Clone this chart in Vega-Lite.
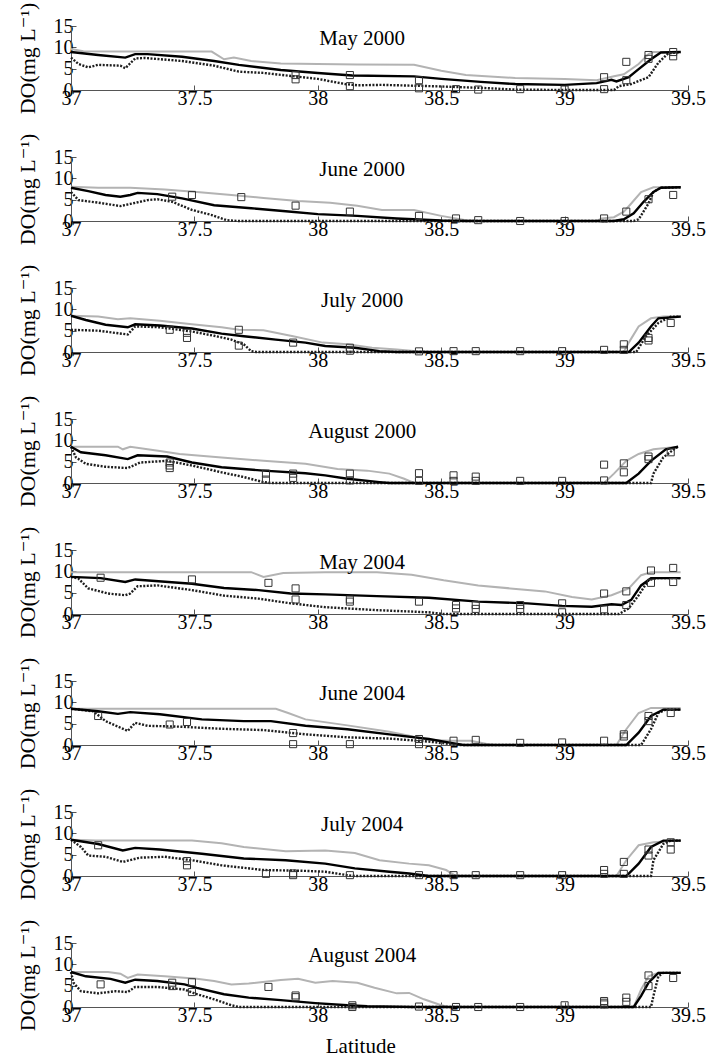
{
  "$schema": "https://vega.github.io/schema/vega-lite/v6.json",
  "background": "white",
  "padding": {"left": 16, "top": 2, "right": 2, "bottom": 0},
  "config": {
    "font": "Liberation Serif, Times New Roman, DejaVu Serif, serif",
    "view": {"stroke": null},
    "axis": {"labelFont": "Liberation Serif, Times New Roman, DejaVu Serif, serif", "labelFontSize": 20, "labelColor": "#000", "titleFont": "Liberation Serif, Times New Roman, DejaVu Serif, serif", "titleFontSize": 22, "titleFontWeight": "normal", "titleColor": "#000", "domainColor": "#555", "tickColor": "#555", "grid": false},
    "title": {"font": "Liberation Serif, Times New Roman, DejaVu Serif, serif"},
    "text": {"font": "Liberation Serif, Times New Roman, DejaVu Serif, serif"}
  },
  "datasets": {
    "d": [
      {"panel":"May 2000","series":"surface","lat":37,"do":9.6},{"panel":"May 2000","series":"surface","lat":37.05,"do":9.1},{"panel":"May 2000","series":"surface","lat":37.2,"do":9.0},{"panel":"May 2000","series":"surface","lat":37.4,"do":9.0},{"panel":"May 2000","series":"surface","lat":37.57,"do":9.0},{"panel":"May 2000","series":"surface","lat":37.62,"do":7.2},{"panel":"May 2000","series":"surface","lat":37.66,"do":7.6},{"panel":"May 2000","series":"surface","lat":37.73,"do":6.8},{"panel":"May 2000","series":"surface","lat":37.85,"do":6.2},{"panel":"May 2000","series":"surface","lat":38.0,"do":6.1},{"panel":"May 2000","series":"surface","lat":38.16,"do":6.0},{"panel":"May 2000","series":"surface","lat":38.39,"do":5.9},{"panel":"May 2000","series":"surface","lat":38.5,"do":4.5},{"panel":"May 2000","series":"surface","lat":38.6,"do":3.5},{"panel":"May 2000","series":"surface","lat":38.8,"do":2.8},{"panel":"May 2000","series":"surface","lat":39.0,"do":2.6},{"panel":"May 2000","series":"surface","lat":39.13,"do":2.3},{"panel":"May 2000","series":"surface","lat":39.2,"do":3.2},{"panel":"May 2000","series":"surface","lat":39.24,"do":3.7},{"panel":"May 2000","series":"surface","lat":39.3,"do":6.1},{"panel":"May 2000","series":"surface","lat":39.34,"do":8.4},{"panel":"May 2000","series":"surface","lat":39.36,"do":8.9},{"panel":"May 2000","series":"surface","lat":39.47,"do":8.9},
      {"panel":"May 2000","series":"mean","lat":37,"do":8.9},{"panel":"May 2000","series":"mean","lat":37.11,"do":8.2},{"panel":"May 2000","series":"mean","lat":37.22,"do":7.6},{"panel":"May 2000","series":"mean","lat":37.26,"do":8.4},{"panel":"May 2000","series":"mean","lat":37.31,"do":8.4},{"panel":"May 2000","series":"mean","lat":37.45,"do":7.8},{"panel":"May 2000","series":"mean","lat":37.58,"do":6.8},{"panel":"May 2000","series":"mean","lat":37.68,"do":5.9},{"panel":"May 2000","series":"mean","lat":37.85,"do":4.7},{"panel":"May 2000","series":"mean","lat":38.0,"do":4.0},{"panel":"May 2000","series":"mean","lat":38.14,"do":3.4},{"panel":"May 2000","series":"mean","lat":38.39,"do":3.2},{"panel":"May 2000","series":"mean","lat":38.5,"do":2.6},{"panel":"May 2000","series":"mean","lat":38.66,"do":1.9},{"panel":"May 2000","series":"mean","lat":38.8,"do":1.4},{"panel":"May 2000","series":"mean","lat":39.0,"do":1.2},{"panel":"May 2000","series":"mean","lat":39.13,"do":1.6},{"panel":"May 2000","series":"mean","lat":39.19,"do":2.4},{"panel":"May 2000","series":"mean","lat":39.21,"do":2.0},{"panel":"May 2000","series":"mean","lat":39.26,"do":3.0},{"panel":"May 2000","series":"mean","lat":39.3,"do":4.9},{"panel":"May 2000","series":"mean","lat":39.35,"do":7.2},{"panel":"May 2000","series":"mean","lat":39.39,"do":8.8},{"panel":"May 2000","series":"mean","lat":39.47,"do":8.9},
      {"panel":"May 2000","series":"bottom","lat":37,"do":7.6},{"panel":"May 2000","series":"bottom","lat":37.03,"do":6.1},{"panel":"May 2000","series":"bottom","lat":37.07,"do":5.3},{"panel":"May 2000","series":"bottom","lat":37.11,"do":5.9},{"panel":"May 2000","series":"bottom","lat":37.2,"do":5.7},{"panel":"May 2000","series":"bottom","lat":37.22,"do":5.1},{"panel":"May 2000","series":"bottom","lat":37.26,"do":7.4},{"panel":"May 2000","series":"bottom","lat":37.3,"do":7.5},{"panel":"May 2000","series":"bottom","lat":37.45,"do":6.8},{"panel":"May 2000","series":"bottom","lat":37.58,"do":5.7},{"panel":"May 2000","series":"bottom","lat":37.68,"do":4.3},{"panel":"May 2000","series":"bottom","lat":37.78,"do":4.0},{"panel":"May 2000","series":"bottom","lat":38.0,"do":2.6},{"panel":"May 2000","series":"bottom","lat":38.11,"do":1.4},{"panel":"May 2000","series":"bottom","lat":38.16,"do":1.1},{"panel":"May 2000","series":"bottom","lat":38.26,"do":1.2},{"panel":"May 2000","series":"bottom","lat":38.46,"do":0.9},{"panel":"May 2000","series":"bottom","lat":38.66,"do":0.5},{"panel":"May 2000","series":"bottom","lat":38.8,"do":0.1},{"panel":"May 2000","series":"bottom","lat":39.0,"do":0},{"panel":"May 2000","series":"bottom","lat":39.2,"do":0},{"panel":"May 2000","series":"bottom","lat":39.22,"do":0.9},{"panel":"May 2000","series":"bottom","lat":39.27,"do":1.4},{"panel":"May 2000","series":"bottom","lat":39.34,"do":3.0},{"panel":"May 2000","series":"bottom","lat":39.38,"do":6.4},{"panel":"May 2000","series":"bottom","lat":39.42,"do":8.6},{"panel":"May 2000","series":"bottom","lat":39.47,"do":8.9},
      {"panel":"May 2000","series":"obs","lat":37.91,"do":3.5},{"panel":"May 2000","series":"obs","lat":37.91,"do":2.5},{"panel":"May 2000","series":"obs","lat":38.13,"do":3.5},{"panel":"May 2000","series":"obs","lat":38.13,"do":0.9},{"panel":"May 2000","series":"obs","lat":38.41,"do":2.3},{"panel":"May 2000","series":"obs","lat":38.41,"do":0.4},{"panel":"May 2000","series":"obs","lat":38.56,"do":0.2},{"panel":"May 2000","series":"obs","lat":38.65,"do":0.1},{"panel":"May 2000","series":"obs","lat":38.82,"do":0.2},{"panel":"May 2000","series":"obs","lat":39.0,"do":0.1},{"panel":"May 2000","series":"obs","lat":39.16,"do":3.0},{"panel":"May 2000","series":"obs","lat":39.16,"do":0.2},{"panel":"May 2000","series":"obs","lat":39.25,"do":6.6},{"panel":"May 2000","series":"obs","lat":39.25,"do":2.3},{"panel":"May 2000","series":"obs","lat":39.34,"do":8.2},{"panel":"May 2000","series":"obs","lat":39.34,"do":7.3},{"panel":"May 2000","series":"obs","lat":39.44,"do":8.9},{"panel":"May 2000","series":"obs","lat":39.44,"do":7.9},

      {"panel":"June 2000","series":"surface","lat":37,"do":8.0},{"panel":"June 2000","series":"surface","lat":37.11,"do":7.8},{"panel":"June 2000","series":"surface","lat":37.24,"do":7.8},{"panel":"June 2000","series":"surface","lat":37.38,"do":7.4},{"panel":"June 2000","series":"surface","lat":37.51,"do":6.8},{"panel":"June 2000","series":"surface","lat":37.65,"do":6.1},{"panel":"June 2000","series":"surface","lat":37.78,"do":5.4},{"panel":"June 2000","series":"surface","lat":37.92,"do":4.7},{"panel":"June 2000","series":"surface","lat":38.05,"do":4.3},{"panel":"June 2000","series":"surface","lat":38.16,"do":3.6},{"panel":"June 2000","series":"surface","lat":38.26,"do":2.6},{"panel":"June 2000","series":"surface","lat":38.39,"do":2.6},{"panel":"June 2000","series":"surface","lat":38.5,"do":1.2},{"panel":"June 2000","series":"surface","lat":38.6,"do":0.2},{"panel":"June 2000","series":"surface","lat":38.66,"do":0},{"panel":"June 2000","series":"surface","lat":39.13,"do":0},{"panel":"June 2000","series":"surface","lat":39.15,"do":0.6},{"panel":"June 2000","series":"surface","lat":39.2,"do":0.9},{"panel":"June 2000","series":"surface","lat":39.24,"do":2.2},{"panel":"June 2000","series":"surface","lat":39.27,"do":4.1},{"panel":"June 2000","series":"surface","lat":39.31,"do":6.8},{"panel":"June 2000","series":"surface","lat":39.36,"do":7.9},{"panel":"June 2000","series":"surface","lat":39.47,"do":7.9},
      {"panel":"June 2000","series":"mean","lat":37,"do":7.8},{"panel":"June 2000","series":"mean","lat":37.07,"do":7.0},{"panel":"June 2000","series":"mean","lat":37.14,"do":6.1},{"panel":"June 2000","series":"mean","lat":37.2,"do":5.7},{"panel":"June 2000","series":"mean","lat":37.24,"do":6.1},{"panel":"June 2000","series":"mean","lat":37.27,"do":6.6},{"panel":"June 2000","series":"mean","lat":37.35,"do":6.3},{"panel":"June 2000","series":"mean","lat":37.45,"do":5.3},{"panel":"June 2000","series":"mean","lat":37.58,"do":3.7},{"panel":"June 2000","series":"mean","lat":37.73,"do":3.0},{"panel":"June 2000","series":"mean","lat":37.87,"do":2.3},{"panel":"June 2000","series":"mean","lat":38.0,"do":1.6},{"panel":"June 2000","series":"mean","lat":38.16,"do":1.2},{"panel":"June 2000","series":"mean","lat":38.32,"do":0.6},{"panel":"June 2000","series":"mean","lat":38.5,"do":0.1},{"panel":"June 2000","series":"mean","lat":38.6,"do":0},{"panel":"June 2000","series":"mean","lat":39.2,"do":0},{"panel":"June 2000","series":"mean","lat":39.24,"do":0.4},{"panel":"June 2000","series":"mean","lat":39.28,"do":1.8},{"panel":"June 2000","series":"mean","lat":39.32,"do":4.5},{"panel":"June 2000","series":"mean","lat":39.36,"do":6.8},{"panel":"June 2000","series":"mean","lat":39.39,"do":7.8},{"panel":"June 2000","series":"mean","lat":39.47,"do":7.9},
      {"panel":"June 2000","series":"bottom","lat":37,"do":6.8},{"panel":"June 2000","series":"bottom","lat":37.03,"do":4.9},{"panel":"June 2000","series":"bottom","lat":37.11,"do":4.3},{"panel":"June 2000","series":"bottom","lat":37.2,"do":3.5},{"panel":"June 2000","series":"bottom","lat":37.24,"do":4.0},{"panel":"June 2000","series":"bottom","lat":37.31,"do":4.9},{"panel":"June 2000","series":"bottom","lat":37.35,"do":5.1},{"panel":"June 2000","series":"bottom","lat":37.41,"do":4.5},{"panel":"June 2000","series":"bottom","lat":37.49,"do":2.6},{"panel":"June 2000","series":"bottom","lat":37.57,"do":1.4},{"panel":"June 2000","series":"bottom","lat":37.63,"do":0.2},{"panel":"June 2000","series":"bottom","lat":37.68,"do":0},{"panel":"June 2000","series":"bottom","lat":39.28,"do":0},{"panel":"June 2000","series":"bottom","lat":39.3,"do":0.4},{"panel":"June 2000","series":"bottom","lat":39.34,"do":4.1},{"panel":"June 2000","series":"bottom","lat":39.36,"do":6.8},{"panel":"June 2000","series":"bottom","lat":39.39,"do":7.8},{"panel":"June 2000","series":"bottom","lat":39.47,"do":7.9},
      {"panel":"June 2000","series":"obs","lat":37.41,"do":5.7},{"panel":"June 2000","series":"obs","lat":37.49,"do":6.1},{"panel":"June 2000","series":"obs","lat":37.69,"do":5.6},{"panel":"June 2000","series":"obs","lat":37.91,"do":3.6},{"panel":"June 2000","series":"obs","lat":38.13,"do":2.2},{"panel":"June 2000","series":"obs","lat":38.41,"do":1.2},{"panel":"June 2000","series":"obs","lat":38.56,"do":0.6},{"panel":"June 2000","series":"obs","lat":38.65,"do":0.2},{"panel":"June 2000","series":"obs","lat":38.82,"do":0},{"panel":"June 2000","series":"obs","lat":39.0,"do":0},{"panel":"June 2000","series":"obs","lat":39.16,"do":0.6},{"panel":"June 2000","series":"obs","lat":39.25,"do":2.2},{"panel":"June 2000","series":"obs","lat":39.34,"do":5.1},{"panel":"June 2000","series":"obs","lat":39.44,"do":6.1},

      {"panel":"July 2000","series":"surface","lat":37,"do":8.5},{"panel":"July 2000","series":"surface","lat":37.11,"do":8.3},{"panel":"July 2000","series":"surface","lat":37.19,"do":7.7},{"panel":"July 2000","series":"surface","lat":37.24,"do":7.9},{"panel":"July 2000","series":"surface","lat":37.36,"do":7.3},{"panel":"July 2000","series":"surface","lat":37.49,"do":6.5},{"panel":"July 2000","series":"surface","lat":37.61,"do":5.8},{"panel":"July 2000","series":"surface","lat":37.68,"do":5.2},{"panel":"July 2000","series":"surface","lat":37.78,"do":5.1},{"panel":"July 2000","series":"surface","lat":37.9,"do":3.7},{"panel":"July 2000","series":"surface","lat":38.02,"do":2.2},{"panel":"July 2000","series":"surface","lat":38.12,"do":1.8},{"panel":"July 2000","series":"surface","lat":38.22,"do":1.0},{"panel":"July 2000","series":"surface","lat":38.32,"do":0.6},{"panel":"July 2000","series":"surface","lat":38.4,"do":0.15},{"panel":"July 2000","series":"surface","lat":38.45,"do":0},{"panel":"July 2000","series":"surface","lat":39.24,"do":0},{"panel":"July 2000","series":"surface","lat":39.26,"do":2.2},{"panel":"July 2000","series":"surface","lat":39.3,"do":6.0},{"panel":"July 2000","series":"surface","lat":39.35,"do":7.9},{"panel":"July 2000","series":"surface","lat":39.4,"do":8.3},{"panel":"July 2000","series":"surface","lat":39.47,"do":8.3},
      {"panel":"July 2000","series":"mean","lat":37,"do":8.5},{"panel":"July 2000","series":"mean","lat":37.06,"do":7.5},{"panel":"July 2000","series":"mean","lat":37.14,"do":6.4},{"panel":"July 2000","series":"mean","lat":37.23,"do":5.8},{"panel":"July 2000","series":"mean","lat":37.26,"do":6.5},{"panel":"July 2000","series":"mean","lat":37.36,"do":6.2},{"panel":"July 2000","series":"mean","lat":37.49,"do":5.5},{"panel":"July 2000","series":"mean","lat":37.61,"do":4.3},{"panel":"July 2000","series":"mean","lat":37.7,"do":3.7},{"panel":"July 2000","series":"mean","lat":37.83,"do":2.9},{"panel":"July 2000","series":"mean","lat":37.95,"do":2.2},{"panel":"July 2000","series":"mean","lat":38.03,"do":1.4},{"panel":"July 2000","series":"mean","lat":38.15,"do":1.0},{"panel":"July 2000","series":"mean","lat":38.25,"do":0.2},{"panel":"July 2000","series":"mean","lat":38.32,"do":0},{"panel":"July 2000","series":"mean","lat":39.26,"do":0},{"panel":"July 2000","series":"mean","lat":39.3,"do":2.2},{"panel":"July 2000","series":"mean","lat":39.35,"do":6.0},{"panel":"July 2000","series":"mean","lat":39.38,"do":7.9},{"panel":"July 2000","series":"mean","lat":39.47,"do":8.3},
      {"panel":"July 2000","series":"bottom","lat":37,"do":5.2},{"panel":"July 2000","series":"bottom","lat":37.11,"do":5.0},{"panel":"July 2000","series":"bottom","lat":37.23,"do":4.1},{"panel":"July 2000","series":"bottom","lat":37.26,"do":6.0},{"panel":"July 2000","series":"bottom","lat":37.36,"do":5.8},{"panel":"July 2000","series":"bottom","lat":37.49,"do":4.8},{"panel":"July 2000","series":"bottom","lat":37.58,"do":3.8},{"panel":"July 2000","series":"bottom","lat":37.65,"do":2.9},{"panel":"July 2000","series":"bottom","lat":37.7,"do":1.8},{"panel":"July 2000","series":"bottom","lat":37.73,"do":0.2},{"panel":"July 2000","series":"bottom","lat":37.75,"do":0},{"panel":"July 2000","series":"bottom","lat":39.29,"do":0},{"panel":"July 2000","series":"bottom","lat":39.33,"do":3.7},{"panel":"July 2000","series":"bottom","lat":39.38,"do":6.8},{"panel":"July 2000","series":"bottom","lat":39.43,"do":8.3},{"panel":"July 2000","series":"bottom","lat":39.47,"do":8.3},
      {"panel":"July 2000","series":"obs","lat":37.4,"do":5.2},{"panel":"July 2000","series":"obs","lat":37.47,"do":4.5},{"panel":"July 2000","series":"obs","lat":37.47,"do":3.3},{"panel":"July 2000","series":"obs","lat":37.68,"do":5.2},{"panel":"July 2000","series":"obs","lat":37.68,"do":1.5},{"panel":"July 2000","series":"obs","lat":37.9,"do":2.2},{"panel":"July 2000","series":"obs","lat":38.13,"do":1.0},{"panel":"July 2000","series":"obs","lat":38.13,"do":0.3},{"panel":"July 2000","series":"obs","lat":38.41,"do":0.15},{"panel":"July 2000","series":"obs","lat":38.55,"do":0.2},{"panel":"July 2000","series":"obs","lat":38.64,"do":0.2},{"panel":"July 2000","series":"obs","lat":38.82,"do":0.2},{"panel":"July 2000","series":"obs","lat":38.99,"do":0.2},{"panel":"July 2000","series":"obs","lat":39.16,"do":0.5},{"panel":"July 2000","series":"obs","lat":39.24,"do":1.8},{"panel":"July 2000","series":"obs","lat":39.24,"do":0.5},{"panel":"July 2000","series":"obs","lat":39.34,"do":3.3},{"panel":"July 2000","series":"obs","lat":39.34,"do":2.7},{"panel":"July 2000","series":"obs","lat":39.43,"do":6.8},

      {"panel":"August 2000","series":"surface","lat":37,"do":8.5},{"panel":"August 2000","series":"surface","lat":37.19,"do":8.5},{"panel":"August 2000","series":"surface","lat":37.21,"do":7.9},{"panel":"August 2000","series":"surface","lat":37.24,"do":8.5},{"panel":"August 2000","series":"surface","lat":37.36,"do":7.5},{"panel":"August 2000","series":"surface","lat":37.44,"do":6.8},{"panel":"August 2000","series":"surface","lat":37.61,"do":6.0},{"panel":"August 2000","series":"surface","lat":37.78,"do":5.2},{"panel":"August 2000","series":"surface","lat":37.95,"do":4.5},{"panel":"August 2000","series":"surface","lat":38.08,"do":3.3},{"panel":"August 2000","series":"surface","lat":38.2,"do":2.9},{"panel":"August 2000","series":"surface","lat":38.29,"do":2.2},{"panel":"August 2000","series":"surface","lat":38.35,"do":1.0},{"panel":"August 2000","series":"surface","lat":38.39,"do":0},{"panel":"August 2000","series":"surface","lat":39.16,"do":0},{"panel":"August 2000","series":"surface","lat":39.2,"do":2.2},{"panel":"August 2000","series":"surface","lat":39.25,"do":5.2},{"panel":"August 2000","series":"surface","lat":39.3,"do":6.8},{"panel":"August 2000","series":"surface","lat":39.36,"do":7.9},{"panel":"August 2000","series":"surface","lat":39.46,"do":8.5},
      {"panel":"August 2000","series":"mean","lat":37,"do":8.5},{"panel":"August 2000","series":"mean","lat":37.04,"do":7.2},{"panel":"August 2000","series":"mean","lat":37.14,"do":6.5},{"panel":"August 2000","series":"mean","lat":37.23,"do":5.6},{"panel":"August 2000","series":"mean","lat":37.27,"do":6.5},{"panel":"August 2000","series":"mean","lat":37.39,"do":6.2},{"panel":"August 2000","series":"mean","lat":37.49,"do":4.8},{"panel":"August 2000","series":"mean","lat":37.61,"do":3.7},{"panel":"August 2000","series":"mean","lat":37.78,"do":2.9},{"panel":"August 2000","series":"mean","lat":37.95,"do":2.3},{"panel":"August 2000","series":"mean","lat":38.03,"do":1.8},{"panel":"August 2000","series":"mean","lat":38.12,"do":1.0},{"panel":"August 2000","series":"mean","lat":38.25,"do":0.2},{"panel":"August 2000","series":"mean","lat":38.29,"do":0},{"panel":"August 2000","series":"mean","lat":39.25,"do":0},{"panel":"August 2000","series":"mean","lat":39.3,"do":2.2},{"panel":"August 2000","series":"mean","lat":39.35,"do":5.2},{"panel":"August 2000","series":"mean","lat":39.41,"do":7.9},{"panel":"August 2000","series":"mean","lat":39.46,"do":8.5},
      {"panel":"August 2000","series":"bottom","lat":37,"do":8.5},{"panel":"August 2000","series":"bottom","lat":37.02,"do":6.0},{"panel":"August 2000","series":"bottom","lat":37.06,"do":4.5},{"panel":"August 2000","series":"bottom","lat":37.14,"do":3.8},{"panel":"August 2000","series":"bottom","lat":37.23,"do":3.5},{"panel":"August 2000","series":"bottom","lat":37.28,"do":4.8},{"panel":"August 2000","series":"bottom","lat":37.39,"do":5.2},{"panel":"August 2000","series":"bottom","lat":37.49,"do":4.1},{"panel":"August 2000","series":"bottom","lat":37.61,"do":2.5},{"panel":"August 2000","series":"bottom","lat":37.7,"do":1.4},{"panel":"August 2000","series":"bottom","lat":37.78,"do":0.2},{"panel":"August 2000","series":"bottom","lat":37.81,"do":0},{"panel":"August 2000","series":"bottom","lat":39.35,"do":0},{"panel":"August 2000","series":"bottom","lat":39.36,"do":2.2},{"panel":"August 2000","series":"bottom","lat":39.4,"do":6.0},{"panel":"August 2000","series":"bottom","lat":39.45,"do":8.2},{"panel":"August 2000","series":"bottom","lat":39.46,"do":8.5},
      {"panel":"August 2000","series":"obs","lat":37.4,"do":4.8},{"panel":"August 2000","series":"obs","lat":37.4,"do":4.1},{"panel":"August 2000","series":"obs","lat":37.4,"do":3.5},{"panel":"August 2000","series":"obs","lat":37.79,"do":2.2},{"panel":"August 2000","series":"obs","lat":37.79,"do":0.8},{"panel":"August 2000","series":"obs","lat":37.9,"do":2.2},{"panel":"August 2000","series":"obs","lat":37.9,"do":1.2},{"panel":"August 2000","series":"obs","lat":38.13,"do":2.2},{"panel":"August 2000","series":"obs","lat":38.13,"do":0.6},{"panel":"August 2000","series":"obs","lat":38.41,"do":2.3},{"panel":"August 2000","series":"obs","lat":38.41,"do":0.5},{"panel":"August 2000","series":"obs","lat":38.55,"do":1.8},{"panel":"August 2000","series":"obs","lat":38.55,"do":0.5},{"panel":"August 2000","series":"obs","lat":38.64,"do":1.5},{"panel":"August 2000","series":"obs","lat":38.64,"do":0.5},{"panel":"August 2000","series":"obs","lat":38.82,"do":0.5},{"panel":"August 2000","series":"obs","lat":38.99,"do":0.5},{"panel":"August 2000","series":"obs","lat":39.16,"do":4.3},{"panel":"August 2000","series":"obs","lat":39.16,"do":0.6},{"panel":"August 2000","series":"obs","lat":39.24,"do":4.6},{"panel":"August 2000","series":"obs","lat":39.24,"do":2.5},{"panel":"August 2000","series":"obs","lat":39.34,"do":6.2},{"panel":"August 2000","series":"obs","lat":39.34,"do":5.6},{"panel":"August 2000","series":"obs","lat":39.43,"do":7.2},

      {"panel":"May 2004","series":"surface","lat":37,"do":9.8},{"panel":"May 2004","series":"surface","lat":37.3,"do":9.8},{"panel":"May 2004","series":"surface","lat":37.5,"do":9.8},{"panel":"May 2004","series":"surface","lat":37.73,"do":9.8},{"panel":"May 2004","series":"surface","lat":37.78,"do":8.7},{"panel":"May 2004","series":"surface","lat":37.86,"do":9.6},{"panel":"May 2004","series":"surface","lat":38.03,"do":9.8},{"panel":"May 2004","series":"surface","lat":38.24,"do":9.8},{"panel":"May 2004","series":"surface","lat":38.38,"do":9.2},{"panel":"May 2004","series":"surface","lat":38.51,"do":7.9},{"panel":"May 2004","series":"surface","lat":38.65,"do":6.7},{"panel":"May 2004","series":"surface","lat":38.78,"do":6.0},{"panel":"May 2004","series":"surface","lat":38.92,"do":5.3},{"panel":"May 2004","series":"surface","lat":39.03,"do":4.0},{"panel":"May 2004","series":"surface","lat":39.11,"do":3.4},{"panel":"May 2004","series":"surface","lat":39.19,"do":4.4},{"panel":"May 2004","series":"surface","lat":39.26,"do":6.0},{"panel":"May 2004","series":"surface","lat":39.31,"do":9.1},{"panel":"May 2004","series":"surface","lat":39.35,"do":9.8},{"panel":"May 2004","series":"surface","lat":39.47,"do":9.8},
      {"panel":"May 2004","series":"mean","lat":37,"do":8.7},{"panel":"May 2004","series":"mean","lat":37.12,"do":8.4},{"panel":"May 2004","series":"mean","lat":37.22,"do":7.5},{"panel":"May 2004","series":"mean","lat":37.26,"do":8.1},{"panel":"May 2004","series":"mean","lat":37.49,"do":7.1},{"panel":"May 2004","series":"mean","lat":37.62,"do":6.1},{"panel":"May 2004","series":"mean","lat":37.76,"do":5.6},{"panel":"May 2004","series":"mean","lat":37.89,"do":4.8},{"panel":"May 2004","series":"mean","lat":38.03,"do":4.6},{"panel":"May 2004","series":"mean","lat":38.24,"do":4.2},{"panel":"May 2004","series":"mean","lat":38.45,"do":3.8},{"panel":"May 2004","series":"mean","lat":38.65,"do":2.9},{"panel":"May 2004","series":"mean","lat":38.85,"do":2.5},{"panel":"May 2004","series":"mean","lat":38.99,"do":1.9},{"panel":"May 2004","series":"mean","lat":39.11,"do":1.7},{"panel":"May 2004","series":"mean","lat":39.19,"do":2.3},{"panel":"May 2004","series":"mean","lat":39.23,"do":2.1},{"panel":"May 2004","series":"mean","lat":39.27,"do":3.3},{"panel":"May 2004","series":"mean","lat":39.31,"do":6.7},{"panel":"May 2004","series":"mean","lat":39.35,"do":8.4},{"panel":"May 2004","series":"mean","lat":39.47,"do":8.4},
      {"panel":"May 2004","series":"bottom","lat":37,"do":8.7},{"panel":"May 2004","series":"bottom","lat":37.03,"do":8.3},{"panel":"May 2004","series":"bottom","lat":37.07,"do":6.0},{"panel":"May 2004","series":"bottom","lat":37.15,"do":4.8},{"panel":"May 2004","series":"bottom","lat":37.22,"do":4.4},{"panel":"May 2004","series":"bottom","lat":37.24,"do":4.8},{"panel":"May 2004","series":"bottom","lat":37.27,"do":6.5},{"panel":"May 2004","series":"bottom","lat":37.35,"do":6.7},{"panel":"May 2004","series":"bottom","lat":37.49,"do":5.6},{"panel":"May 2004","series":"bottom","lat":37.62,"do":4.3},{"panel":"May 2004","series":"bottom","lat":37.76,"do":3.6},{"panel":"May 2004","series":"bottom","lat":37.89,"do":2.5},{"panel":"May 2004","series":"bottom","lat":38.03,"do":1.6},{"panel":"May 2004","series":"bottom","lat":38.24,"do":0.9},{"panel":"May 2004","series":"bottom","lat":38.45,"do":0.4},{"panel":"May 2004","series":"bottom","lat":38.51,"do":0},{"panel":"May 2004","series":"bottom","lat":39.22,"do":0},{"panel":"May 2004","series":"bottom","lat":39.26,"do":1.3},{"panel":"May 2004","series":"bottom","lat":39.3,"do":4.4},{"panel":"May 2004","series":"bottom","lat":39.34,"do":7.9},{"panel":"May 2004","series":"bottom","lat":39.37,"do":8.4},{"panel":"May 2004","series":"bottom","lat":39.47,"do":8.4},
      {"panel":"May 2004","series":"obs","lat":37.12,"do":8.5},{"panel":"May 2004","series":"obs","lat":37.49,"do":8.1},{"panel":"May 2004","series":"obs","lat":37.8,"do":7.3},{"panel":"May 2004","series":"obs","lat":37.91,"do":6.0},{"panel":"May 2004","series":"obs","lat":37.91,"do":3.4},{"panel":"May 2004","series":"obs","lat":38.13,"do":3.4},{"panel":"May 2004","series":"obs","lat":38.13,"do":2.9},{"panel":"May 2004","series":"obs","lat":38.41,"do":2.9},{"panel":"May 2004","series":"obs","lat":38.56,"do":2.1},{"panel":"May 2004","series":"obs","lat":38.56,"do":1.3},{"panel":"May 2004","series":"obs","lat":38.64,"do":2.1},{"panel":"May 2004","series":"obs","lat":38.64,"do":1.2},{"panel":"May 2004","series":"obs","lat":38.82,"do":2.1},{"panel":"May 2004","series":"obs","lat":38.82,"do":1.2},{"panel":"May 2004","series":"obs","lat":38.99,"do":2.5},{"panel":"May 2004","series":"obs","lat":38.99,"do":0.4},{"panel":"May 2004","series":"obs","lat":39.16,"do":4.8},{"panel":"May 2004","series":"obs","lat":39.16,"do":1.1},{"panel":"May 2004","series":"obs","lat":39.25,"do":5.3},{"panel":"May 2004","series":"obs","lat":39.25,"do":2.1},{"panel":"May 2004","series":"obs","lat":39.35,"do":10.2},{"panel":"May 2004","series":"obs","lat":39.35,"do":7.3},{"panel":"May 2004","series":"obs","lat":39.44,"do":10.8},{"panel":"May 2004","series":"obs","lat":39.44,"do":7.5},

      {"panel":"June 2004","series":"surface","lat":37,"do":8.5},{"panel":"June 2004","series":"surface","lat":37.5,"do":8.5},{"panel":"June 2004","series":"surface","lat":37.83,"do":8.5},{"panel":"June 2004","series":"surface","lat":37.88,"do":7.5},{"panel":"June 2004","series":"surface","lat":37.95,"do":6.0},{"panel":"June 2004","series":"surface","lat":38.12,"do":4.6},{"panel":"June 2004","series":"surface","lat":38.29,"do":3.1},{"panel":"June 2004","series":"surface","lat":38.37,"do":2.2},{"panel":"June 2004","series":"surface","lat":38.45,"do":1.2},{"panel":"June 2004","series":"surface","lat":38.54,"do":1.0},{"panel":"June 2004","series":"surface","lat":38.62,"do":1.0},{"panel":"June 2004","series":"surface","lat":38.69,"do":0.2},{"panel":"June 2004","series":"surface","lat":38.72,"do":0},{"panel":"June 2004","series":"surface","lat":39.21,"do":0},{"panel":"June 2004","series":"surface","lat":39.25,"do":3.7},{"panel":"June 2004","series":"surface","lat":39.3,"do":7.5},{"panel":"June 2004","series":"surface","lat":39.35,"do":8.7},{"panel":"June 2004","series":"surface","lat":39.47,"do":8.7},
      {"panel":"June 2004","series":"mean","lat":37,"do":8.5},{"panel":"June 2004","series":"mean","lat":37.11,"do":7.9},{"panel":"June 2004","series":"mean","lat":37.19,"do":7.3},{"panel":"June 2004","series":"mean","lat":37.24,"do":7.7},{"panel":"June 2004","series":"mean","lat":37.36,"do":7.2},{"panel":"June 2004","series":"mean","lat":37.53,"do":6.0},{"panel":"June 2004","series":"mean","lat":37.7,"do":5.6},{"panel":"June 2004","series":"mean","lat":37.81,"do":5.6},{"panel":"June 2004","series":"mean","lat":37.95,"do":4.5},{"panel":"June 2004","series":"mean","lat":38.12,"do":3.7},{"panel":"June 2004","series":"mean","lat":38.29,"do":2.5},{"panel":"June 2004","series":"mean","lat":38.45,"do":1.4},{"panel":"June 2004","series":"mean","lat":38.54,"do":0.5},{"panel":"June 2004","series":"mean","lat":38.59,"do":0},{"panel":"June 2004","series":"mean","lat":39.25,"do":0},{"panel":"June 2004","series":"mean","lat":39.3,"do":2.9},{"panel":"June 2004","series":"mean","lat":39.35,"do":6.8},{"panel":"June 2004","series":"mean","lat":39.4,"do":8.3},{"panel":"June 2004","series":"mean","lat":39.47,"do":8.3},
      {"panel":"June 2004","series":"bottom","lat":37,"do":8.5},{"panel":"June 2004","series":"bottom","lat":37.09,"do":7.9},{"panel":"June 2004","series":"bottom","lat":37.14,"do":5.6},{"panel":"June 2004","series":"bottom","lat":37.23,"do":3.3},{"panel":"June 2004","series":"bottom","lat":37.26,"do":5.2},{"panel":"June 2004","series":"bottom","lat":37.31,"do":4.5},{"panel":"June 2004","series":"bottom","lat":37.44,"do":4.3},{"panel":"June 2004","series":"bottom","lat":37.61,"do":3.8},{"panel":"June 2004","series":"bottom","lat":37.78,"do":3.5},{"panel":"June 2004","series":"bottom","lat":37.95,"do":2.5},{"panel":"June 2004","series":"bottom","lat":38.12,"do":1.8},{"panel":"June 2004","series":"bottom","lat":38.29,"do":1.5},{"panel":"June 2004","series":"bottom","lat":38.45,"do":0.8},{"panel":"June 2004","series":"bottom","lat":38.54,"do":0.2},{"panel":"June 2004","series":"bottom","lat":38.57,"do":0},{"panel":"June 2004","series":"bottom","lat":39.31,"do":0},{"panel":"June 2004","series":"bottom","lat":39.35,"do":3.7},{"panel":"June 2004","series":"bottom","lat":39.38,"do":7.5},{"panel":"June 2004","series":"bottom","lat":39.41,"do":8.3},{"panel":"June 2004","series":"bottom","lat":39.47,"do":8.3},
      {"panel":"June 2004","series":"obs","lat":37.11,"do":6.8},{"panel":"June 2004","series":"obs","lat":37.4,"do":4.8},{"panel":"June 2004","series":"obs","lat":37.47,"do":5.4},{"panel":"June 2004","series":"obs","lat":37.9,"do":2.8},{"panel":"June 2004","series":"obs","lat":37.9,"do":0.2},{"panel":"June 2004","series":"obs","lat":38.13,"do":0.2},{"panel":"June 2004","series":"obs","lat":38.41,"do":1.4},{"panel":"June 2004","series":"obs","lat":38.41,"do":0.2},{"panel":"June 2004","series":"obs","lat":38.55,"do":1.0},{"panel":"June 2004","series":"obs","lat":38.64,"do":1.2},{"panel":"June 2004","series":"obs","lat":38.82,"do":0.5},{"panel":"June 2004","series":"obs","lat":38.99,"do":0.6},{"panel":"June 2004","series":"obs","lat":39.16,"do":1.0},{"panel":"June 2004","series":"obs","lat":39.24,"do":2.5},{"panel":"June 2004","series":"obs","lat":39.24,"do":2.0},{"panel":"June 2004","series":"obs","lat":39.34,"do":6.8},{"panel":"June 2004","series":"obs","lat":39.34,"do":5.6},{"panel":"June 2004","series":"obs","lat":39.43,"do":7.5},

      {"panel":"July 2004","series":"surface","lat":37,"do":8.5},{"panel":"July 2004","series":"surface","lat":37.1,"do":8.3},{"panel":"July 2004","series":"surface","lat":37.49,"do":8.3},{"panel":"July 2004","series":"surface","lat":37.61,"do":7.7},{"panel":"July 2004","series":"surface","lat":37.7,"do":6.8},{"panel":"July 2004","series":"surface","lat":37.87,"do":5.8},{"panel":"July 2004","series":"surface","lat":38.03,"do":6.0},{"panel":"July 2004","series":"surface","lat":38.15,"do":5.4},{"panel":"July 2004","series":"surface","lat":38.25,"do":3.7},{"panel":"July 2004","series":"surface","lat":38.37,"do":2.9},{"panel":"July 2004","series":"surface","lat":38.45,"do":2.5},{"panel":"July 2004","series":"surface","lat":38.52,"do":1.4},{"panel":"July 2004","series":"surface","lat":38.56,"do":0},{"panel":"July 2004","series":"surface","lat":39.21,"do":0},{"panel":"July 2004","series":"surface","lat":39.25,"do":3.7},{"panel":"July 2004","series":"surface","lat":39.3,"do":7.2},{"panel":"July 2004","series":"surface","lat":39.36,"do":7.9},{"panel":"July 2004","series":"surface","lat":39.47,"do":8.3},
      {"panel":"July 2004","series":"mean","lat":37,"do":8.5},{"panel":"July 2004","series":"mean","lat":37.11,"do":7.5},{"panel":"July 2004","series":"mean","lat":37.21,"do":6.0},{"panel":"July 2004","series":"mean","lat":37.26,"do":6.6},{"panel":"July 2004","series":"mean","lat":37.36,"do":6.2},{"panel":"July 2004","series":"mean","lat":37.53,"do":5.2},{"panel":"July 2004","series":"mean","lat":37.7,"do":4.1},{"panel":"July 2004","series":"mean","lat":37.87,"do":3.7},{"panel":"July 2004","series":"mean","lat":38.03,"do":2.9},{"panel":"July 2004","series":"mean","lat":38.15,"do":1.8},{"panel":"July 2004","series":"mean","lat":38.29,"do":1.0},{"panel":"July 2004","series":"mean","lat":38.37,"do":0.6},{"panel":"July 2004","series":"mean","lat":38.45,"do":0},{"panel":"July 2004","series":"mean","lat":39.25,"do":0},{"panel":"July 2004","series":"mean","lat":39.3,"do":2.9},{"panel":"July 2004","series":"mean","lat":39.35,"do":6.8},{"panel":"July 2004","series":"mean","lat":39.4,"do":8.3},{"panel":"July 2004","series":"mean","lat":39.47,"do":8.3},
      {"panel":"July 2004","series":"bottom","lat":37,"do":8.5},{"panel":"July 2004","series":"bottom","lat":37.04,"do":6.8},{"panel":"July 2004","series":"bottom","lat":37.07,"do":4.8},{"panel":"July 2004","series":"bottom","lat":37.14,"do":4.5},{"panel":"July 2004","series":"bottom","lat":37.21,"do":3.3},{"panel":"July 2004","series":"bottom","lat":37.28,"do":4.3},{"panel":"July 2004","series":"bottom","lat":37.38,"do":4.5},{"panel":"July 2004","series":"bottom","lat":37.49,"do":3.7},{"panel":"July 2004","series":"bottom","lat":37.61,"do":2.5},{"panel":"July 2004","series":"bottom","lat":37.78,"do":1.4},{"panel":"July 2004","series":"bottom","lat":37.95,"do":1.2},{"panel":"July 2004","series":"bottom","lat":38.03,"do":1.0},{"panel":"July 2004","series":"bottom","lat":38.12,"do":0.2},{"panel":"July 2004","series":"bottom","lat":38.15,"do":0},{"panel":"July 2004","series":"bottom","lat":39.35,"do":0},{"panel":"July 2004","series":"bottom","lat":39.36,"do":3.7},{"panel":"July 2004","series":"bottom","lat":39.4,"do":7.5},{"panel":"July 2004","series":"bottom","lat":39.43,"do":8.3},{"panel":"July 2004","series":"bottom","lat":39.47,"do":8.3},
      {"panel":"July 2004","series":"obs","lat":37.11,"do":7.2},{"panel":"July 2004","series":"obs","lat":37.47,"do":3.5},{"panel":"July 2004","series":"obs","lat":37.47,"do":2.5},{"panel":"July 2004","series":"obs","lat":37.79,"do":0.5},{"panel":"July 2004","series":"obs","lat":37.9,"do":0.6},{"panel":"July 2004","series":"obs","lat":37.9,"do":0.2},{"panel":"July 2004","series":"obs","lat":38.13,"do":0.2},{"panel":"July 2004","series":"obs","lat":38.41,"do":0.2},{"panel":"July 2004","series":"obs","lat":38.55,"do":0.2},{"panel":"July 2004","series":"obs","lat":38.64,"do":0.2},{"panel":"July 2004","series":"obs","lat":38.82,"do":0.2},{"panel":"July 2004","series":"obs","lat":38.99,"do":0.2},{"panel":"July 2004","series":"obs","lat":39.16,"do":1.4},{"panel":"July 2004","series":"obs","lat":39.16,"do":0.5},{"panel":"July 2004","series":"obs","lat":39.24,"do":3.3},{"panel":"July 2004","series":"obs","lat":39.24,"do":0.5},{"panel":"July 2004","series":"obs","lat":39.34,"do":6.2},{"panel":"July 2004","series":"obs","lat":39.34,"do":4.8},{"panel":"July 2004","series":"obs","lat":39.43,"do":7.9},{"panel":"July 2004","series":"obs","lat":39.43,"do":6.2},

      {"panel":"August 2004","series":"surface","lat":37,"do":8.2},{"panel":"August 2004","series":"surface","lat":37.15,"do":8.2},{"panel":"August 2004","series":"surface","lat":37.2,"do":7.8},{"panel":"August 2004","series":"surface","lat":37.23,"do":6.8},{"panel":"August 2004","series":"surface","lat":37.27,"do":7.6},{"panel":"August 2004","series":"surface","lat":37.38,"do":7.2},{"panel":"August 2004","series":"surface","lat":37.51,"do":6.6},{"panel":"August 2004","series":"surface","lat":37.58,"do":6.1},{"panel":"August 2004","series":"surface","lat":37.65,"do":5.3},{"panel":"August 2004","series":"surface","lat":37.72,"do":5.5},{"panel":"August 2004","series":"surface","lat":37.85,"do":6.3},{"panel":"August 2004","series":"surface","lat":37.92,"do":6.6},{"panel":"August 2004","series":"surface","lat":37.99,"do":5.7},{"panel":"August 2004","series":"surface","lat":38.06,"do":6.1},{"panel":"August 2004","series":"surface","lat":38.16,"do":5.7},{"panel":"August 2004","series":"surface","lat":38.23,"do":4.5},{"panel":"August 2004","series":"surface","lat":38.32,"do":3.2},{"panel":"August 2004","series":"surface","lat":38.37,"do":3.3},{"panel":"August 2004","series":"surface","lat":38.43,"do":1.8},{"panel":"August 2004","series":"surface","lat":38.5,"do":0.4},{"panel":"August 2004","series":"surface","lat":38.53,"do":0},{"panel":"August 2004","series":"surface","lat":39.28,"do":0},{"panel":"August 2004","series":"surface","lat":39.31,"do":4.1},{"panel":"August 2004","series":"surface","lat":39.34,"do":7.2},{"panel":"August 2004","series":"surface","lat":39.38,"do":8.0},{"panel":"August 2004","series":"surface","lat":39.47,"do":8.0},
      {"panel":"August 2004","series":"mean","lat":37,"do":8.2},{"panel":"August 2004","series":"mean","lat":37.06,"do":7.2},{"panel":"August 2004","series":"mean","lat":37.16,"do":6.6},{"panel":"August 2004","series":"mean","lat":37.22,"do":5.7},{"panel":"August 2004","series":"mean","lat":37.26,"do":6.4},{"panel":"August 2004","series":"mean","lat":37.35,"do":6.1},{"panel":"August 2004","series":"mean","lat":37.46,"do":5.3},{"panel":"August 2004","series":"mean","lat":37.51,"do":4.5},{"panel":"August 2004","series":"mean","lat":37.62,"do":3.0},{"panel":"August 2004","series":"mean","lat":37.72,"do":2.2},{"panel":"August 2004","series":"mean","lat":37.85,"do":1.6},{"panel":"August 2004","series":"mean","lat":37.99,"do":0.9},{"panel":"August 2004","series":"mean","lat":38.12,"do":0.4},{"panel":"August 2004","series":"mean","lat":38.2,"do":0.2},{"panel":"August 2004","series":"mean","lat":38.39,"do":0},{"panel":"August 2004","series":"mean","lat":39.28,"do":0},{"panel":"August 2004","series":"mean","lat":39.31,"do":2.6},{"panel":"August 2004","series":"mean","lat":39.34,"do":5.7},{"panel":"August 2004","series":"mean","lat":39.38,"do":8.0},{"panel":"August 2004","series":"mean","lat":39.47,"do":8.0},
      {"panel":"August 2004","series":"bottom","lat":37,"do":8.2},{"panel":"August 2004","series":"bottom","lat":37.01,"do":5.7},{"panel":"August 2004","series":"bottom","lat":37.04,"do":3.7},{"panel":"August 2004","series":"bottom","lat":37.11,"do":3.2},{"panel":"August 2004","series":"bottom","lat":37.18,"do":3.7},{"panel":"August 2004","series":"bottom","lat":37.23,"do":3.5},{"panel":"August 2004","series":"bottom","lat":37.26,"do":4.7},{"panel":"August 2004","series":"bottom","lat":37.35,"do":4.7},{"panel":"August 2004","series":"bottom","lat":37.46,"do":4.1},{"panel":"August 2004","series":"bottom","lat":37.51,"do":3.0},{"panel":"August 2004","series":"bottom","lat":37.58,"do":1.8},{"panel":"August 2004","series":"bottom","lat":37.65,"do":0.4},{"panel":"August 2004","series":"bottom","lat":37.68,"do":0},{"panel":"August 2004","series":"bottom","lat":39.35,"do":0},{"panel":"August 2004","series":"bottom","lat":39.36,"do":2.6},{"panel":"August 2004","series":"bottom","lat":39.38,"do":7.2},{"panel":"August 2004","series":"bottom","lat":39.4,"do":8.0},{"panel":"August 2004","series":"bottom","lat":39.47,"do":8.0},
      {"panel":"August 2004","series":"obs","lat":37.12,"do":5.3},{"panel":"August 2004","series":"obs","lat":37.41,"do":5.7},{"panel":"August 2004","series":"obs","lat":37.41,"do":4.9},{"panel":"August 2004","series":"obs","lat":37.49,"do":5.8},{"panel":"August 2004","series":"obs","lat":37.49,"do":3.5},{"panel":"August 2004","series":"obs","lat":37.8,"do":4.7},{"panel":"August 2004","series":"obs","lat":37.91,"do":2.7},{"panel":"August 2004","series":"obs","lat":37.91,"do":2.3},{"panel":"August 2004","series":"obs","lat":38.14,"do":0.4},{"panel":"August 2004","series":"obs","lat":38.14,"do":0},{"panel":"August 2004","series":"obs","lat":38.41,"do":0.1},{"panel":"August 2004","series":"obs","lat":38.56,"do":0},{"panel":"August 2004","series":"obs","lat":38.65,"do":0},{"panel":"August 2004","series":"obs","lat":38.82,"do":0},{"panel":"August 2004","series":"obs","lat":39.0,"do":0.4},{"panel":"August 2004","series":"obs","lat":39.16,"do":1.4},{"panel":"August 2004","series":"obs","lat":39.16,"do":1.0},{"panel":"August 2004","series":"obs","lat":39.16,"do":0.6},{"panel":"August 2004","series":"obs","lat":39.25,"do":2.2},{"panel":"August 2004","series":"obs","lat":39.25,"do":1.2},{"panel":"August 2004","series":"obs","lat":39.34,"do":7.4},{"panel":"August 2004","series":"obs","lat":39.34,"do":4.9},{"panel":"August 2004","series":"obs","lat":39.44,"do":6.8}
    ]
  },
  "data": {"name": "d"},
  "facet": {"row": {"field": "panel", "type": "nominal", "sort": ["May 2000", "June 2000", "July 2000", "August 2000", "May 2004", "June 2004", "July 2004", "August 2004"], "header": null}},
  "spacing": 67,
  "bounds": "flush",
  "resolve": {"axis": {"x": "independent", "y": "independent"}},
  "title": {"text": "Latitude", "orient": "bottom", "anchor": "middle", "fontSize": 21, "fontWeight": "normal", "font": "Liberation Serif, Times New Roman, DejaVu Serif, serif", "color": "#000", "offset": 5},
  "spec": {
    "width": 617,
    "height": 64,
    "encoding": {
      "x": {"field": "lat", "type": "quantitative", "scale": {"domain": [37, 39.5], "nice": false, "zero": false}, "axis": {"values": [37, 37.5, 38, 38.5, 39, 39.5], "format": "~g", "title": null, "tickSize": -5, "labelPadding": 3, "labelFlush": false, "labelOverlap": false, "labelBound": false}},
      "y": {"field": "do", "type": "quantitative", "scale": {"domain": [0, 15], "nice": false}, "axis": {"values": [0, 5, 10, 15], "title": "DO(mg L⁻¹)", "tickSize": -5, "labelPadding": 3, "titlePadding": 14, "labelFlush": false, "labelOverlap": false, "labelBound": false}}
    },
    "layer": [
      {"transform": [{"filter": "datum.series === 'surface'"}], "mark": {"type": "line", "color": "#b3b3b3", "strokeWidth": 2}},
      {"transform": [{"filter": "datum.series === 'bottom'"}], "mark": {"type": "line", "color": "#1e1e1e", "strokeWidth": 2.4, "strokeDash": [2, 1.5]}},
      {"transform": [{"filter": "datum.series === 'mean'"}], "mark": {"type": "line", "color": "#000", "strokeWidth": 2.4}},
      {"transform": [{"filter": "datum.series === 'obs'"}], "mark": {"type": "point", "shape": "square", "filled": false, "size": 50, "color": "#333", "strokeWidth": 1, "opacity": 1}},
      {"transform": [{"filter": "datum.series === 'surface' && datum.lat === 37"}], "mark": {"type": "text", "fontSize": 21, "align": "center", "baseline": "alphabetic", "color": "#000"}, "encoding": {"x": {"datum": 38.18, "type": "quantitative"}, "y": {"datum": 10.5, "type": "quantitative"}, "text": {"field": "panel", "type": "nominal"}}}
    ]
  }
}
